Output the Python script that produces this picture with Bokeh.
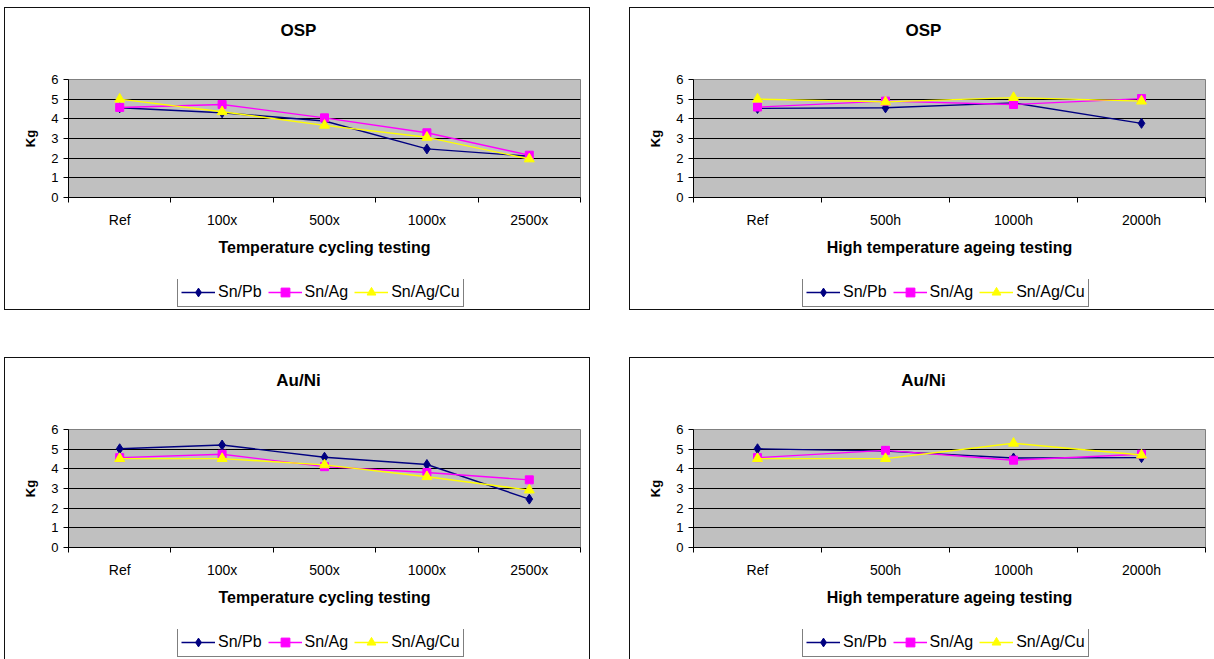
from bokeh.plotting import figure
from bokeh.models import Range1d, FixedTicker, Legend, LegendItem, ColumnDataSource, Label
from bokeh.layouts import column, row
from bokeh.embed import file_html
from bokeh.resources import INLINE

# ---------------- data ----------------
series_names = ["Sn/Pb", "Sn/Ag", "Sn/Ag/Cu"]
cycling_cats = ["Ref", "100x", "500x", "1000x", "2500x"]
ageing_cats = ["Ref", "500h", "1000h", "2000h"]

osp_cycling_snpb = [4.56, 4.31, 3.89, 2.47, 2.10]
osp_cycling_snag = [4.58, 4.73, 4.05, 3.29, 2.15]
osp_cycling_snagcu = [5.00, 4.36, 3.67, 3.06, 1.96]

osp_ageing_snpb = [4.53, 4.56, 4.81, 3.77]
osp_ageing_snag = [4.60, 4.90, 4.73, 5.03]
osp_ageing_snagcu = [5.00, 4.86, 5.08, 4.90]

auni_cycling_snpb = [5.02, 5.21, 4.59, 4.22, 2.46]
auni_cycling_snag = [4.57, 4.74, 4.11, 3.81, 3.44]
auni_cycling_snagcu = [4.52, 4.52, 4.20, 3.60, 2.92]

auni_ageing_snpb = [5.02, 4.90, 4.55, 4.57]
auni_ageing_snag = [4.57, 4.94, 4.44, 4.74]
auni_ageing_snagcu = [4.52, 4.52, 5.30, 4.70]

y_ticks = [0, 1, 2, 3, 4, 5, 6]
y_label = "Kg"
x_label_cycling = "Temperature cycling testing"
x_label_ageing = "High temperature ageing testing"

# ---------------- styles ----------------
FONT = "Liberation Sans"
colors = ["#000080", "#FF00FF", "#FFFF00"]
markers = ["diamond", "square", "triangle"]
marker_sizes = [10, 8, 10]

W = 584            # panel width
TITLE_H = 61       # title strip height
CHART_H = 210      # chart strip height (frame + axes)
LEG_H = 30         # legend strip height
NAN = float("nan")


def blank_fig(height):
    f = figure(width=W, height=height, x_range=Range1d(0, 1), y_range=Range1d(0, 1),
               x_axis_type=None, y_axis_type=None, output_backend="svg", toolbar_location=None,
               min_border=0)
    f.outline_line_color = None
    f.background_fill_color = "white"
    f.border_fill_color = "white"
    return f


def make_panel(title, cats, values, xlabel):
    n = len(cats)
    xs = list(range(1, n + 1))

    # ---- title strip (its frame is aligned with the chart frame by the column layout)
    tf = blank_fig(TITLE_H)
    tf.add_layout(Label(x=230, y=TITLE_H - 22, x_units="screen", y_units="screen",
                        text=title, text_align="center", text_baseline="middle",
                        text_font=FONT, text_font_size="17px", text_font_style="bold",
                        text_color="black"))

    # ---- chart strip
    p = figure(width=W, height=CHART_H, x_range=Range1d(0.5, n + 0.5), y_range=Range1d(0, 6),
               output_backend="svg", toolbar_location=None,
               min_border_left=63, min_border_right=9, min_border_top=10, min_border_bottom=82)
    p.background_fill_color = "#C0C0C0"
    p.border_fill_color = "white"
    p.outline_line_color = "#808080"
    p.outline_line_width = 1

    p.xaxis.ticker = FixedTicker(ticks=xs, minor_ticks=[x - 0.5 for x in xs] + [n + 0.5])
    p.xaxis.major_label_overrides = {x: c for x, c in zip(xs, cats)}
    p.xaxis.major_tick_out = 0
    p.xaxis.major_tick_in = 0
    p.xaxis.minor_tick_out = 5
    p.xaxis.minor_tick_in = 0
    p.xaxis.minor_tick_line_color = "black"
    p.xaxis.major_label_standoff = 9
    p.xaxis.major_label_text_font_size = "14px"
    p.xaxis.axis_label = xlabel
    p.xaxis.axis_label_standoff = 8
    p.xaxis.axis_label_text_font_size = "16px"

    p.yaxis.ticker = FixedTicker(ticks=y_ticks)
    p.yaxis.major_tick_out = 5
    p.yaxis.major_tick_in = 0
    p.yaxis.minor_tick_line_color = None
    p.yaxis.major_label_standoff = 5
    p.yaxis.major_label_text_font_size = "13px"
    p.yaxis.axis_label = y_label
    p.yaxis.axis_label_standoff = 10
    p.yaxis.axis_label_text_font_size = "13px"

    for ax in (p.xaxis[0], p.yaxis[0]):
        ax.axis_line_color = "black"
        ax.major_tick_line_color = "black"
        ax.major_label_text_font = FONT
        ax.major_label_text_color = "black"
        ax.axis_label_text_font = FONT
        ax.axis_label_text_font_style = "bold"
        ax.axis_label_text_color = "black"

    p.xgrid.visible = False
    p.ygrid.ticker = FixedTicker(ticks=y_ticks)
    p.ygrid.grid_line_color = "black"
    p.ygrid.grid_line_width = 1

    for vals, col, mk, ms in zip(values, colors, markers, marker_sizes):
        src = ColumnDataSource(dict(x=xs, y=vals))
        p.line("x", "y", source=src, line_color=col, line_width=1.4)
        p.scatter("x", "y", source=src, marker=mk, size=ms, fill_color=col, line_color=col)

    # ---- legend strip (legend-only glyphs, nothing plotted)
    lf = blank_fig(LEG_H)
    items = []
    for name, col, mk, ms in zip(series_names, colors, markers, marker_sizes):
        placeholder = ColumnDataSource(dict(x=[NAN], y=[NAN]))
        lr = lf.line("x", "y", source=placeholder, line_color=col, line_width=1.4)
        sr = lf.scatter("x", "y", source=placeholder, marker=mk, size=ms, fill_color=col, line_color=col)
        items.append(LegendItem(label=name, renderers=[lr, sr]))
    legend = Legend(items=items, location=(109, 2), orientation="horizontal",
                    border_line_color="black", border_line_width=1,
                    background_fill_color="white", background_fill_alpha=1,
                    label_text_font=FONT, label_text_font_size="16px", label_text_color="black",
                    label_height=18, glyph_width=34, glyph_height=22, label_standoff=3,
                    spacing=6, padding=3, margin=0)
    lf.add_layout(legend)

    return column(tf, p, lf, spacing=0, styles={"outline": "1.5px solid #111111"})


c1 = make_panel("OSP", cycling_cats, [osp_cycling_snpb, osp_cycling_snag, osp_cycling_snagcu], x_label_cycling)
c2 = make_panel("OSP", ageing_cats, [osp_ageing_snpb, osp_ageing_snag, osp_ageing_snagcu], x_label_ageing)
c3 = make_panel("Au/Ni", cycling_cats, [auni_cycling_snpb, auni_cycling_snag, auni_cycling_snagcu], x_label_cycling)
c4 = make_panel("Au/Ni", ageing_cats, [auni_ageing_snpb, auni_ageing_snag, auni_ageing_snagcu], x_label_ageing)

layout = column(row(c1, c2, spacing=41), row(c3, c4, spacing=41), spacing=49, margin=(8, 0, 0, 5))

open("out.html", "w").write(file_html(layout, INLINE))
